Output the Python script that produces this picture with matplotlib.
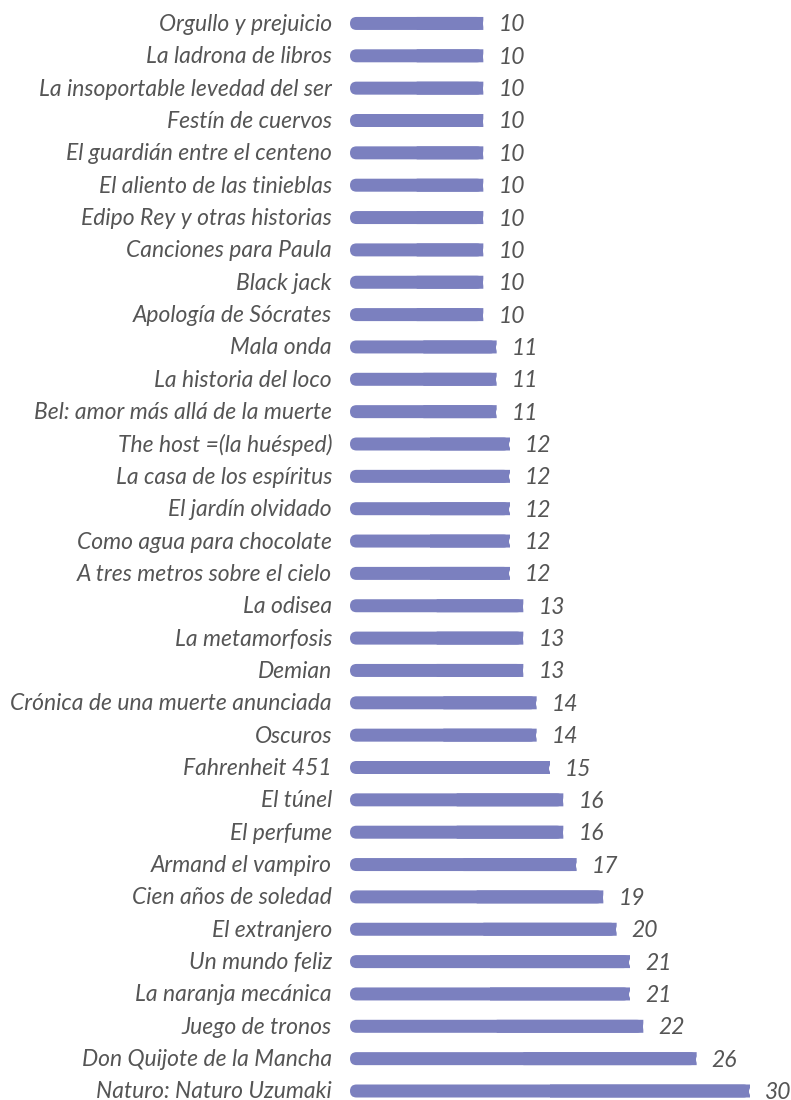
import matplotlib
matplotlib.use("Agg")
import matplotlib.pyplot as plt
from matplotlib.patches import FancyBboxPatch
import matplotlib.transforms as mtransforms

titles = [
    "Orgullo y prejuicio", "La ladrona de libros", "La insoportable levedad del ser",
    "Festín de cuervos", "El guardián entre el centeno", "El aliento de las tinieblas",
    "Edipo Rey y otras historias", "Canciones para Paula", "Black jack",
    "Apología de Sócrates", "Mala onda", "La historia del loco",
    "Bel: amor más allá de la muerte", "The host =(la huésped)", "La casa de los espíritus",
    "El jardín olvidado", "Como agua para chocolate", "A tres metros sobre el cielo",
    "La odisea", "La metamorfosis", "Demian", "Crónica de una muerte anunciada",
    "Oscuros", "Fahrenheit 451", "El túnel", "El perfume", "Armand el vampiro",
    "Cien años de soledad", "El extranjero", "Un mundo feliz", "La naranja mecánica",
    "Juego de tronos", "Don Quijote de la Mancha", "Naturo: Naturo Uzumaki",
]
counts = [10, 10, 10, 10, 10, 10, 10, 10, 10, 10, 11, 11, 11, 12, 12, 12, 12, 12,
          13, 13, 13, 14, 14, 15, 16, 16, 17, 19, 20, 21, 21, 22, 26, 30]

BAR = "#7b80bf"
TXT = "#555555"
W, H = 791, 1100

fig = plt.figure(figsize=(W / 100, H / 100), dpi=100)
ax = fig.add_axes([350 / W, 0, 441 / W, 1])
px_per_x = 400 / 30
row = 32.35
ax.set_xlim(0, 441 / px_per_x)
ax.set_ylim(-9 / row, (H - 9) / row)
ax.axis("off")

n = len(titles)
ypos = [n - 1 - i for i in range(n)]
h = 13 / row
r_x = 6.5 / px_per_x
aspect = (6.5 / row) / r_x

notch = mtransforms.offset_copy(ax.transData, fig=fig, x=5.2, y=0, units="dots")
lab = mtransforms.offset_copy(ax.transData, fig=fig, x=15, y=-1.5, units="dots")
ttl = mtransforms.offset_copy(ax.transData, fig=fig, x=-18, y=-1, units="dots")

for y, v, t in zip(ypos, counts, titles):
    ax.barh(y, v / 2, left=v / 2, height=h, color=BAR, linewidth=0, snap=False)
    p = FancyBboxPatch((0, y - h / 2), v, h,
                       boxstyle=f"round,pad=0,rounding_size={r_x}",
                       mutation_aspect=aspect, facecolor=BAR, edgecolor="none",
                       snap=False)
    ax.add_patch(p)
    ax.scatter([v], [y], s=(13 * 0.72) ** 2, color="white", transform=notch,
               zorder=5, linewidths=0)
    ax.text(v, y, str(v), transform=lab, ha="left", va="center",
            fontsize=16.5, style="italic", family="Lato", color=TXT)
    ax.text(0, y, t, transform=ttl, ha="right", va="center",
            fontsize=16.5, style="italic", family="Lato", color=TXT)

fig.savefig("out.png", dpi=100)
